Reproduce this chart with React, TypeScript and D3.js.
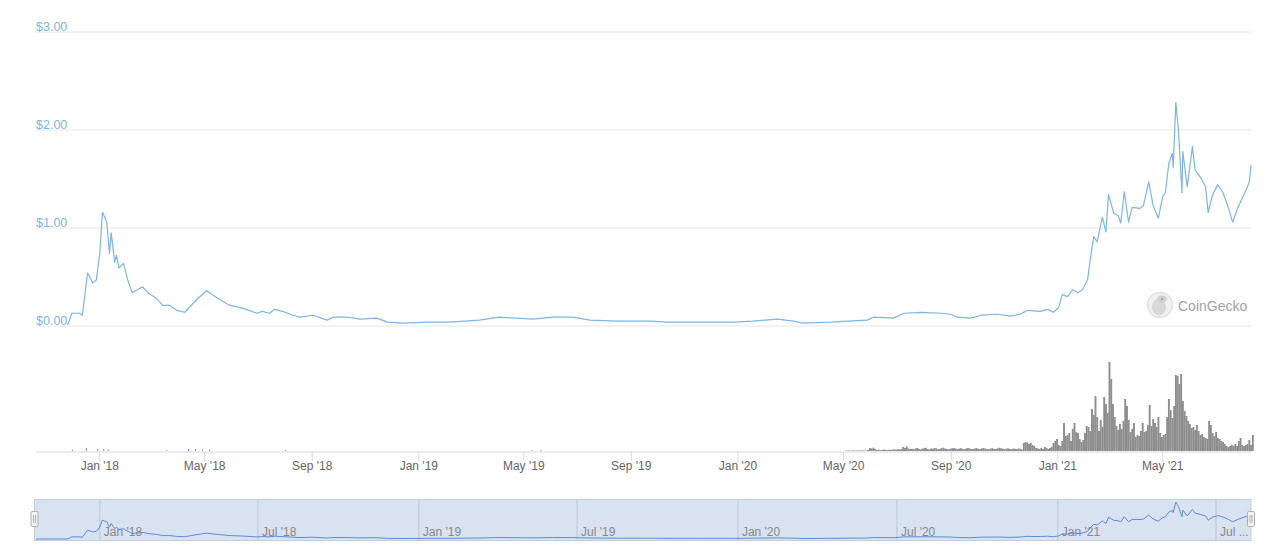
import React from "react";
import * as d3 from "d3";

// ---- Price series (USD) ----
const priceDates = [
  "2017-11-25","2017-11-27","2017-11-30","2017-12-09","2017-12-12","2017-12-18","2017-12-24","2017-12-28",
  "2018-01-01","2018-01-04","2018-01-09","2018-01-12","2018-01-14","2018-01-18","2018-01-20","2018-01-23",
  "2018-01-28","2018-02-02","2018-02-07","2018-02-19","2018-02-25","2018-03-07","2018-03-14","2018-03-22",
  "2018-03-30","2018-04-08","2018-04-22","2018-05-03","2018-05-18","2018-05-30","2018-06-14","2018-06-30",
  "2018-07-06","2018-07-14","2018-07-20","2018-07-29","2018-08-10","2018-08-18","2018-09-02","2018-09-18",
  "2018-09-25","2018-10-11","2018-10-26","2018-11-14","2018-11-26","2018-12-14","2019-01-10","2019-02-05",
  "2019-03-11","2019-04-03","2019-05-12","2019-06-03","2019-06-26","2019-07-16","2019-08-16","2019-09-23",
  "2019-10-12","2019-11-19","2019-12-27","2020-01-18","2020-02-15","2020-03-05","2020-03-16","2020-04-16",
  "2020-05-05","2020-05-28","2020-06-04","2020-06-27","2020-07-09","2020-07-28","2020-08-20","2020-09-01",
  "2020-09-08","2020-09-23","2020-10-05","2020-10-24","2020-11-08","2020-11-19","2020-11-27","2020-12-12",
  "2020-12-20","2020-12-27","2021-01-02","2021-01-06","2021-01-12","2021-01-18","2021-01-24","2021-01-29",
  "2021-02-04","2021-02-07","2021-02-11","2021-02-15","2021-02-21","2021-02-25","2021-02-28","2021-03-06",
  "2021-03-11","2021-03-14","2021-03-18","2021-03-23","2021-03-27","2021-04-05","2021-04-09","2021-04-15",
  "2021-04-20","2021-04-26","2021-05-01","2021-05-04","2021-05-08","2021-05-12","2021-05-13","2021-05-16",
  "2021-05-19","2021-05-23","2021-05-24","2021-05-29","2021-06-04","2021-06-07","2021-06-13","2021-06-19",
  "2021-06-22","2021-06-27","2021-07-03","2021-07-09","2021-07-15","2021-07-20","2021-07-26","2021-08-06",
  "2021-08-08","2021-08-10"
];
const priceValues = [
  0.01,0.05,0.13,0.13,0.11,0.54,0.44,0.47,
  0.74,1.16,1.06,0.74,0.95,0.65,0.72,0.59,
  0.64,0.47,0.34,0.40,0.34,0.28,0.21,0.21,
  0.16,0.14,0.27,0.36,0.27,0.21,0.18,0.13,
  0.15,0.13,0.17,0.15,0.11,0.09,0.11,0.06,
  0.09,0.09,0.07,0.08,0.04,0.03,0.04,0.04,
  0.06,0.09,0.07,0.09,0.09,0.06,0.05,0.05,
  0.04,0.04,0.04,0.05,0.07,0.05,0.03,0.04,
  0.05,0.06,0.09,0.08,0.13,0.14,0.13,0.12,
  0.09,0.08,0.11,0.12,0.10,0.12,0.16,0.15,
  0.17,0.14,0.19,0.32,0.30,0.37,0.34,0.37,
  0.47,0.67,0.91,0.86,1.11,0.96,1.34,1.15,
  1.13,1.05,1.37,1.06,1.21,1.20,1.23,1.47,
  1.23,1.10,1.32,1.36,1.66,1.76,1.62,2.28,
  2.00,1.36,1.78,1.42,1.83,1.59,1.52,1.42,
  1.16,1.34,1.44,1.36,1.21,1.06,1.21,1.42,
  1.47,1.64
];

// ---- Volume (relative units), 2-day buckets from volumeStart ----
const volumeStart = "2020-05-02";
const volumeStepDays = 2;
const volume2020 = [
  0.4,0.3,0.5,0.3,0.4,0.5,0.3,0.4,0.6,0.4,0.5,0.5,0.4,1,
  3,2.5,3.2,2,
  1,1.2,0.8,1,1.5,1.2,0.9,1.3,1.1,1.4,1.6,1.2,1.8,1.5,2,
  4,3,4.5,2.5,2,
  2.2,1.8,2.5,3,2,1.6,2.4,2.8,3.2,2,
  1.7,2.5,2.2,3,2.6,1.8,2.1,2.9,3.3,2.4,
  2,1.6,2.2,2.7,3,2.5,1.9,2.3,2.8,2.1,
  1.7,2.4,3.1,2.6,2,1.8,2.5,2.9,2.2,1.9,
  2.6,3,2.3,2,1.7,2.4,2.8,2.1,1.9,2.5,
  3.2,2.7,2.2,1.8,2.3,2.6,2,1.8,2.4,2.1,
  1.9,2.6,2.2,
  1.5,
  8,9,8.5,7,8,6,5,
  3,2.5,
  2,3,2,4,3,2,3,4,8,10,12
];
const volume2021 = [
  6,5,10,28,15,16,18,10,22,28,
  19,18,12,9,11,18,25,24,20,42,
  36,55,34,20,31,24,54,47,38,89,
  72,47,34,25,21,27,22,30,52,45,
  31,19,22,28,14,16,15,20,28,19,
  20,26,46,25,32,28,24,34,18,14,
  16,17,34,52,41,33,45,76,75,67,
  77,50,40,35,30,27,23,24,21,26,
  20,16,17,14,13,12,30,26,18,15,
  19,13,12,10,9,7,5,4,5,6,
  5,7,5,10,13,6,5,6,7,11,
  6,16
];
const earlyVolumeDates = [
  "2017-11-30","2017-12-16","2017-12-29","2018-01-05","2018-01-10","2018-03-18",
  "2018-04-12","2018-04-20","2018-04-28","2018-05-06","2018-08-01","2019-05-10","2019-05-20"
];
const earlyVolumeValues = [1.5,3,2,2,1.5,1,2,2,1.5,1.5,1,1,1];

// ---- Axis settings ----
const yTicks = [0, 1, 2, 3];
const domainStart = "2017-10-20";
const domainEnd = "2021-08-10";

const FONT = "'Liberation Sans', Arial, Helvetica, sans-serif";

export default function App() {
  const parse = d3.utcParse("%Y-%m-%d");
  const x = d3.scaleUtc().domain([parse(domainStart)!, parse(domainEnd)!]).range([36, 1251]);
  const y = d3.scaleLinear().domain([0, 3]).range([326, 32]);
  const yv = d3.scaleLinear().domain([0, 91]).range([451, 360]);
  const yn = d3.scaleLinear().domain([0, 2.28]).range([539, 502]);

  const price = priceDates.map((d, i) => ({ date: parse(d)!, v: priceValues[i] }));
  const line = d3.line<{ date: Date; v: number }>().x(d => x(d.date)).y(d => y(d.v));
  const navLine = d3.line<{ date: Date; v: number }>().x(d => x(d.date)).y(d => yn(d.v));

  const vStart = parse(volumeStart)!;
  const vols = volume2020.concat(volume2021).map((v, i) => ({
    date: d3.utcDay.offset(vStart, i * volumeStepDays), v,
  }));
  const early = earlyVolumeDates.map((d, i) => ({ date: parse(d)!, v: earlyVolumeValues[i] }));
  const barW = x(d3.utcDay.offset(vStart, volumeStepDays)) - x(vStart);

  const fmt = d3.utcFormat("%b '%y");
  const mainTicks = x.ticks(d3.utcMonth.every(4)!);
  const navTicks = x.ticks(d3.utcMonth.every(6)!);

  return (
    <div style={{ position: "absolute", left: 0, top: 0 }}>
      <svg width={1280} height={558} style={{ display: "block", fontFamily: FONT }}>
        <rect width={1280} height={558} fill="#fff" />
        {/* grid + y labels */}
        {yTicks.map(t => (
          <g key={t}>
            <line x1={36} x2={1251} y1={y(t)} y2={y(t)} stroke="#e6e6e6" strokeWidth={1} />
            <text x={36} y={y(t) - 1.5} fontSize={12.5} fill="#7cb5ec">{d3.format("$.2f")(t)}</text>
          </g>
        ))}

        {/* watermark */}
        <g>
          <circle cx={1160} cy={305} r={12.5} fill="#f0f0f0" stroke="#e2e2e2" strokeWidth={1.5} />
          <ellipse cx={1159} cy={307} rx={7} ry={8.5} fill="#d8d8d8" />
          <ellipse cx={1162} cy={299} rx={5} ry={3.5} fill="#d0d0d0" />
          <circle cx={1162} cy={299} r={1} fill="#999" />
          <text x={1178} y={310.5} fontSize={14} fill="#a3a3a3">CoinGecko</text>
        </g>

        {/* price line */}
        <path d={line(price) || ""} fill="none" stroke="#7cb5ec" strokeWidth={1.2} strokeLinejoin="round" />

        {/* volume bars */}
        {early.map((d, i) => (
          <rect key={"e" + i} x={x(d.date)} y={yv(d.v)} width={1} height={yv(0) - yv(d.v)} fill="#8f8f8f" />
        ))}
        {vols.map((d, i) => (
          <rect key={"v" + i} x={x(d.date)} y={yv(d.v)} width={barW + 0.15}
            height={yv(0) - yv(d.v)} fill="#8e8e8e" />
        ))}

        {/* x axis */}
        <line x1={36} x2={1251} y1={452} y2={452} stroke="#d8d8d8" />
        {mainTicks.map((t, i) => (
          <g key={i}>
            <line x1={x(t)} x2={x(t)} y1={452} y2={461} stroke="#d8d8d8" />
            <text x={x(t)} y={470} fontSize={12} fill="#666" textAnchor="middle">{fmt(t)}</text>
          </g>
        ))}

        {/* navigator */}
        <rect x={34.5} y={499.5} width={1216.5} height={41} fill="#d9e2f1" stroke="#c5cdd9" />
        {navTicks.map((t, i) => {
          const px = x(t);
          const label = 1251 - px < 45 ? d3.utcFormat("%b")(t) + " ..." : fmt(t);
          return (
            <g key={i}>
              <line x1={px} x2={px} y1={500} y2={540} stroke="#bcc6d4" />
              <text x={px + 4} y={536} fontSize={12} fill="#888">{label}</text>
            </g>
          );
        })}
        <path d={navLine(price) || ""} fill="none" stroke="#5a8dd6" strokeWidth={1} />
        <line x1={36} x2={x(price[0].date)} y1={yn(0)} y2={yn(0)} stroke="#5a8dd6" strokeWidth={1} />
        {/* handles */}
        {[34.5, 1251].map((hx, i) => (
          <g key={i}>
            <rect x={hx - 3.5} y={511.5} width={7} height={15} fill="#f2f2f2" stroke="#b0b0b0" rx={1} />
            <line x1={hx - 1} x2={hx - 1} y1={515} y2={523} stroke="#b0b0b0" />
            <line x1={hx + 1} x2={hx + 1} y1={515} y2={523} stroke="#b0b0b0" />
          </g>
        ))}
      </svg>
    </div>
  );
}
